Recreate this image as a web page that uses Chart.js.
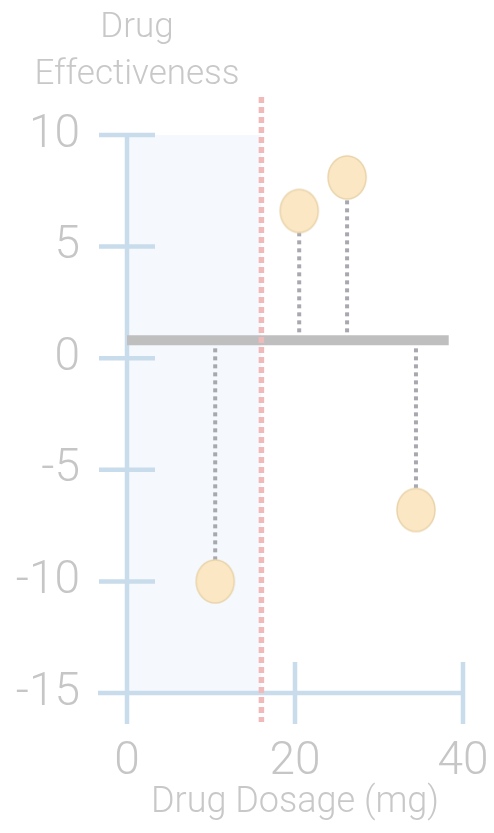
<!DOCTYPE html>
<html>
<head>
<meta charset="utf-8">
<title>Drug Effectiveness</title>
<script src="https://cdn.jsdelivr.net/npm/chart.js@4.4.0/dist/chart.umd.min.js"></script>
<style>
  html, body { margin: 0; padding: 0; background: #ffffff; }
  #wrap { width: 494px; height: 833px; }
</style>
</head>
<body>
<div id="wrap"><canvas id="myChart"></canvas></div>
<script>
// dosage / effectiveness readings
const dosage = [10.5, 20.5, 26.2, 34.4];
const effect = [-10, 6.6, 8.1, -6.8];

// reference levels
const baselineY = 0.8;
const baselineEnd = 38.3;
const thresholdX = 16;
const thresholdSpan = [11.7, -16.3];

// axis ticks
const xTicks = [0, 20, 40];
const yTicks = [-15, -10, -5, 0, 5, 10];

const labelColor = '#c6c6c6';
const axisColor = '#c9dcec';
const fontFamily = "Roboto, 'Liberation Sans', sans-serif";

// oval marker used for the readings
function makeOval() {
  const c = document.createElement('canvas');
  c.width = 42;
  c.height = 47;
  const g = c.getContext('2d');
  g.beginPath();
  g.ellipse(21, 23.5, 19, 21.5, 0, 0, Math.PI * 2);
  g.fillStyle = '#fbe7c3';
  g.fill();
  g.lineWidth = 1.5;
  g.strokeStyle = '#e9d4ab';
  g.stroke();
  return c;
}

function drawAxes(chart) {
  const { ctx, scales } = chart;
  const x = scales.x, y = scales.y;
  const half = 28;
  ctx.save();
  ctx.strokeStyle = axisColor;
  ctx.lineWidth = 4.5;
  ctx.lineCap = 'butt';

  const x0 = x.getPixelForValue(0);
  const yBottom = y.getPixelForValue(-15);
  ctx.beginPath();
  ctx.moveTo(x0, y.getPixelForValue(10));
  ctx.lineTo(x0, yBottom + 31);
  ctx.moveTo(x0 - 29, yBottom);
  ctx.lineTo(x.getPixelForValue(40), yBottom);
  yTicks.forEach(v => {
    if (v === -15) return;
    const py = y.getPixelForValue(v);
    ctx.moveTo(x0 - half, py);
    ctx.lineTo(x0 + half, py);
  });
  xTicks.forEach(v => {
    if (v === 0) return;
    const px = x.getPixelForValue(v);
    ctx.moveTo(px, yBottom - 31);
    ctx.lineTo(px, yBottom + 31);
  });
  ctx.stroke();

  // y title over the axis
  ctx.fillStyle = '#c8c8c8';
  ctx.font = '300 35px ' + fontFamily;
  ctx.textAlign = 'center';
  ctx.textBaseline = 'alphabetic';
  ctx.fillText('Drug', 137, 37);
  ctx.fillText('Effectiveness', 137, 84);
  ctx.restore();
}

// cross-style axes, drawn right after the shaded band so they sit above it
const crossAxes = {
  id: 'crossAxes',
  afterDatasetDraw(chart, args) {
    if (args.index === 0) drawAxes(chart);
  }
};

const ctx = document.getElementById('myChart').getContext('2d');
const stems = dosage.map((d, i) => ({
  type: 'line',
  data: [{ x: d, y: baselineY }, { x: d, y: effect[i] }],
  borderColor: '#a8a8b0',
  borderWidth: 4,
  borderDash: [4, 4],
  pointRadius: 0,
  order: 4
}));

let myChart = new Chart(ctx, {
  type: 'scatter',
  data: {
    datasets: [
      {
        type: 'line',
        data: [{ x: 0, y: 10 }, { x: thresholdX, y: 10 }],
        fill: 'start',
        backgroundColor: '#f5f8fd',
        borderWidth: 0,
        pointRadius: 0,
        order: 6
      },
      ...stems,
      {
        type: 'line',
        data: [{ x: 0, y: baselineY }, { x: baselineEnd, y: baselineY }],
        borderColor: '#bfbfbf',
        borderWidth: 10,
        borderCapStyle: 'butt',
        pointRadius: 0,
        order: 3
      },
      {
        type: 'line',
        data: [{ x: thresholdX, y: thresholdSpan[0] }, { x: thresholdX, y: thresholdSpan[1] }],
        borderColor: '#f1baba',
        borderWidth: 5.5,
        borderDash: [6, 4],
        pointRadius: 0,
        clip: false,
        order: 2
      },
      {
        label: 'Effectiveness',
        data: dosage.map((d, i) => ({ x: d, y: effect[i] })),
        pointStyle: makeOval(),
        pointRadius: 21,
        order: 1
      }
    ]
  },
  options: {
    responsive: true,
    maintainAspectRatio: false,
    animation: false,
    layout: {
      padding: { top: 135, right: 31, left: 0, bottom: 0 }
    },
    plugins: {
      legend: { display: false },
      tooltip: { enabled: false }
    },
    scales: {
      x: {
        type: 'linear',
        min: 0,
        max: 40,
        afterBuildTicks: axis => { axis.ticks = xTicks.map(v => ({ value: v })); },
        afterFit: axis => {
          axis.height = 140;
          axis.paddingLeft = 0;
          axis.paddingRight = 0;
        },
        grid: { display: false, drawTicks: false },
        border: { display: false },
        ticks: {
          color: labelColor,
          padding: 42,
          font: { family: fontFamily, size: 46, weight: '300' }
        },
        title: {
          display: true,
          text: 'Drug Dosage (mg)',
          color: '#c8c8c8',
          padding: { top: 0, bottom: 8 },
          font: { family: fontFamily, size: 36, weight: '300' }
        }
      },
      y: {
        type: 'linear',
        min: -15,
        max: 10,
        afterBuildTicks: axis => { axis.ticks = yTicks.map(v => ({ value: v })); },
        afterFit: axis => {
          axis.width = 127;
          axis.paddingTop = 0;
          axis.paddingBottom = 0;
        },
        grid: { display: false, drawTicks: false },
        border: { display: false },
        ticks: {
          color: labelColor,
          padding: 47,
          font: { family: fontFamily, size: 46, weight: '300' }
        }
      }
    }
  },
  plugins: [crossAxes]
});
</script>
</body>
</html>
